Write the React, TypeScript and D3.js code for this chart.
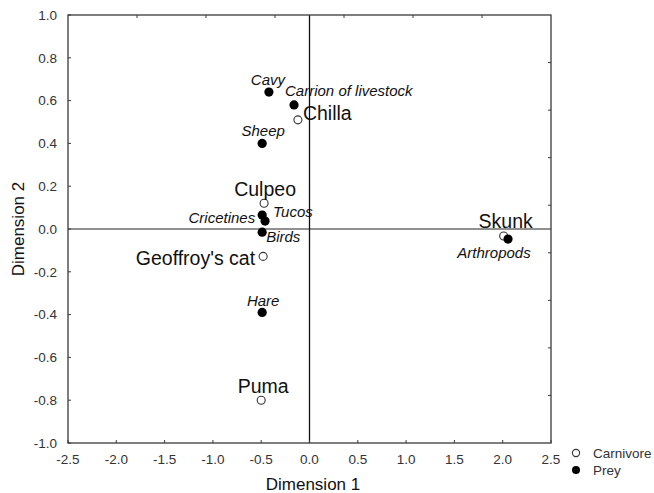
import React, { useEffect, useRef } from "react";
import * as d3 from "d3";

// carnivores (open circles)
const carnivoreNames = ["Chilla", "Culpeo", "Geoffroy's cat", "Puma", "Skunk"];
const carnivoreDim1 = [-0.12, -0.47, -0.48, -0.5, 2.01];
const carnivoreDim2 = [0.51, 0.12, -0.128, -0.8, -0.033];

// prey (filled dots)
const preyNames = ["Cavy", "Carrion of livestock", "Sheep", "Cricetines", "Tucos", "Birds", "Hare", "Arthropods"];
const preyDim1 = [-0.42, -0.16, -0.49, -0.49, -0.46, -0.49, -0.49, 2.055];
const preyDim2 = [0.64, 0.58, 0.4, 0.065, 0.037, -0.015, -0.39, -0.047];

const xTicks = [-2.5, -2.0, -1.5, -1.0, -0.5, 0.0, 0.5, 1.0, 1.5, 2.0, 2.5];
const yTicks = [-1.0, -0.8, -0.6, -0.4, -0.2, 0.0, 0.2, 0.4, 0.6, 0.8, 1.0];
const legendItems = ["Carnivore", "Prey"];

// where each label sits relative to its point: [dx, dy, anchor]
const labelPlace: Record<string, [number, number, string]> = {
  "Chilla": [5, 0, "start"],
  "Culpeo": [1, -7, "middle"],
  "Geoffroy's cat": [-8, 9, "end"],
  "Puma": [2, -7, "middle"],
  "Skunk": [2, -8, "middle"],
  "Cavy": [-1, -7, "middle"],
  "Carrion of livestock": [-9, -9, "start"],
  "Sheep": [1, -7, "middle"],
  "Cricetines": [-7, 8, "end"],
  "Tucos": [8, -4, "start"],
  "Birds": [4, 10, "start"],
  "Hare": [1, -6, "middle"],
  "Arthropods": [-14, 19, "middle"],
};

const FONT = "'Liberation Sans', Arial, Helvetica, sans-serif";

const App = () => {
  const svgRef = useRef<SVGSVGElement>(null);

  useEffect(() => {
    const svg = d3.select(svgRef.current);
    svg.selectAll("*").remove();

    const left = 68, right = 551, top = 15, bottom = 443;
    const x = d3.scaleLinear().domain([-2.5, 2.5]).range([left, right]);
    const y = d3.scaleLinear().domain([-1, 1]).range([bottom, top]);
    const frame = "#3a3a3a";

    // zero lines
    svg.append("line")
      .attr("x1", left).attr("x2", right)
      .attr("y1", y(0)).attr("y2", y(0))
      .attr("stroke", "#222").attr("stroke-width", 1);
    svg.append("line")
      .attr("x1", x(0)).attr("x2", x(0))
      .attr("y1", top).attr("y2", bottom)
      .attr("stroke", "#111").attr("stroke-width", 1.3);

    // frame
    svg.append("rect")
      .attr("x", left).attr("y", top)
      .attr("width", right - left).attr("height", bottom - top)
      .attr("fill", "none").attr("stroke", frame).attr("stroke-width", 1.3);

    // inward ticks on left / bottom
    svg.selectAll(".ytick").data(yTicks).join("line")
      .attr("x1", left).attr("x2", left + 3)
      .attr("y1", d => y(d)).attr("y2", d => y(d))
      .attr("stroke", frame);
    svg.selectAll(".xtick").data(xTicks).join("line")
      .attr("x1", d => x(d)).attr("x2", d => x(d))
      .attr("y1", bottom).attr("y2", bottom - 3)
      .attr("stroke", frame);

    // the top and right edges carry their own unlabeled divisions
    const topDiv = d3.scaleLinear().domain([0, 7]).range([left, right]);
    const rightDiv = d3.scaleLinear().domain([0, 9]).range([top, bottom]);
    svg.selectAll(".ttick").data(d3.range(1, 7)).join("line")
      .attr("x1", d => topDiv(d)).attr("x2", d => topDiv(d))
      .attr("y1", top).attr("y2", top + 3)
      .attr("stroke", frame);
    svg.selectAll(".rtick").data(d3.range(1, 9)).join("line")
      .attr("x1", right).attr("x2", right - 3)
      .attr("y1", d => rightDiv(d)).attr("y2", d => rightDiv(d))
      .attr("stroke", frame);

    // tick labels
    svg.selectAll(".xlab").data(xTicks).join("text")
      .attr("x", d => x(d)).attr("y", bottom + 21)
      .attr("text-anchor", "middle")
      .attr("font-family", FONT).attr("font-size", 13.5).attr("fill", "#333")
      .text(d => d.toFixed(1));
    svg.selectAll(".ylab").data(yTicks).join("text")
      .attr("x", left - 11).attr("y", d => y(d))
      .attr("dy", "0.36em")
      .attr("text-anchor", "end")
      .attr("font-family", FONT).attr("font-size", 13.5).attr("fill", "#333")
      .text(d => d.toFixed(1));

    // axis titles
    svg.append("text")
      .attr("x", 313).attr("y", 490)
      .attr("text-anchor", "middle")
      .attr("font-family", FONT).attr("font-size", 17).attr("fill", "#111")
      .text("Dimension 1");
    svg.append("text")
      .attr("transform", `translate(24, ${y(0)}) rotate(-90)`)
      .attr("text-anchor", "middle")
      .attr("font-family", FONT).attr("font-size", 17).attr("fill", "#111")
      .text("Dimension 2");

    const carn = carnivoreNames.map((n, i) => ({ name: n, d1: carnivoreDim1[i], d2: carnivoreDim2[i] }));
    const prey = preyNames.map((n, i) => ({ name: n, d1: preyDim1[i], d2: preyDim2[i] }));

    // points
    svg.selectAll(".carn").data(carn).join("circle")
      .attr("cx", d => x(d.d1)).attr("cy", d => y(d.d2)).attr("r", 4)
      .attr("fill", "white").attr("stroke", "#333").attr("stroke-width", 1.1);
    svg.selectAll(".prey").data(prey).join("circle")
      .attr("cx", d => x(d.d1)).attr("cy", d => y(d.d2)).attr("r", 4.6)
      .attr("fill", "#000");

    // labels
    svg.selectAll(".carnlab").data(carn).join("text")
      .attr("x", d => x(d.d1) + labelPlace[d.name][0])
      .attr("y", d => y(d.d2) + labelPlace[d.name][1])
      .attr("text-anchor", d => labelPlace[d.name][2])
      .attr("font-family", FONT).attr("font-size", 19.5).attr("fill", "#111")
      .text(d => d.name);
    svg.selectAll(".preylab").data(prey).join("text")
      .attr("x", d => x(d.d1) + labelPlace[d.name][0])
      .attr("y", d => y(d.d2) + labelPlace[d.name][1])
      .attr("text-anchor", d => labelPlace[d.name][2])
      .attr("font-family", FONT).attr("font-size", 15).attr("font-style", "italic").attr("fill", "#111")
      .text(d => d.name);

    // legend
    const lg = svg.append("g").attr("transform", "translate(576, 453)");
    legendItems.forEach((item, i) => {
      const row = lg.append("g").attr("transform", `translate(0, ${i * 17})`);
      if (i === 0) {
        row.append("circle").attr("r", 3.6)
          .attr("fill", "white").attr("stroke", "#333").attr("stroke-width", 1.1);
      } else {
        row.append("circle").attr("r", 4).attr("fill", "#000");
      }
      row.append("text")
        .attr("x", 17).attr("dy", "0.36em")
        .attr("font-family", FONT).attr("font-size", 13.5).attr("fill", "#333")
        .text(item);
    });
  }, []);

  return (
    <svg ref={svgRef} width={654} height={493}
      style={{ position: "absolute", left: 0, top: 0, background: "white" }} />
  );
};

export default App;
